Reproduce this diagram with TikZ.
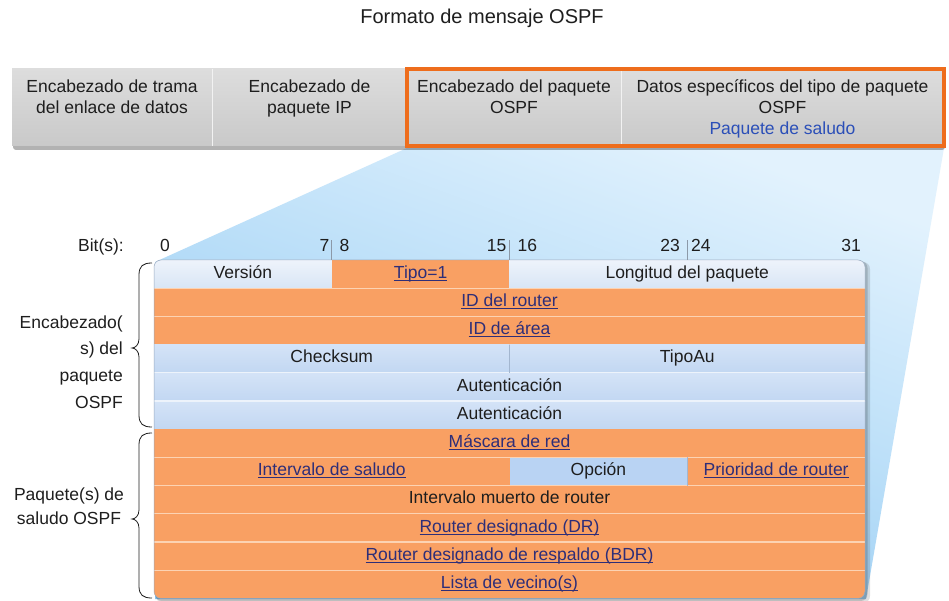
\documentclass[tikz,border=0pt]{standalone}
\usepackage{fontspec}
\setmainfont{Liberation Sans}

% palette
\definecolor{txtc}{HTML}{1E1E1E}
\definecolor{linkc}{HTML}{2E2E78}
\definecolor{hello}{HTML}{2B4FB8}
\definecolor{framec}{HTML}{EE6D1C}
\definecolor{barlight}{HTML}{DDDDDD}
\definecolor{bardark}{HTML}{C9C9C9}
\definecolor{barsep}{HTML}{F2F2F2}
\definecolor{projlight}{HTML}{E2F2FD}
\definecolor{projmid}{HTML}{B7DDF8}
\definecolor{projdark}{HTML}{8CC6F0}
\definecolor{orangec}{HTML}{F9A063}
\definecolor{orangeln}{HTML}{FCD3B3}
\definecolor{paletop}{HTML}{EEF3FB}
\definecolor{palebot}{HTML}{D8E5F5}
\definecolor{bluetop}{HTML}{D4E3F7}
\definecolor{bluebot}{HTML}{C2D7F2}
\definecolor{optblue}{HTML}{B9D3F3}
\definecolor{blueln}{HTML}{EDF3FB}
\definecolor{divln}{HTML}{A3B6CF}
\definecolor{tickc}{HTML}{8C99A8}
\definecolor{tableedge}{HTML}{9AABC0}

% underlined field name
\newcommand\lnk[1]{\textcolor{linkc}{\setbox0=\hbox{#1}\rlap{\rule[-2.6pt]{\wd0}{0.9pt}}\box0}}

\tikzset{
  bar/.style={anchor=north west, minimum height=77pt, inner sep=0pt, outer sep=0pt,
    top color=barlight, bottom color=bardark},
  bartext/.style={anchor=north, inner sep=0pt, align=center, text=txtc,
    font=\fontsize{17.5}{21}\selectfont},
  cell/.style={anchor=north west, minimum height=28.2pt, inner sep=0pt, outer sep=0pt,
    text=txtc, font=\fontsize{17.5}{20}\selectfont, text height=12pt, text depth=3.5pt},
  orange cell/.style={cell, fill=orangec},
  pale cell/.style={cell, top color=paletop, bottom color=palebot},
  blue cell/.style={cell, top color=bluetop, bottom color=bluebot},
  bit/.style={anchor=base, inner sep=0pt, text=txtc, font=\fontsize{17.5}{20}\selectfont},
  side/.style={inner sep=0pt, text=txtc},
  orange sep/.style={draw=orangeln, line width=1.1pt},
  blue sep/.style={draw=blueln, line width=1.1pt},
  col sep/.style={draw=divln, line width=0.7pt},
  tick/.style={draw=tickc, line width=0.8pt},
  curly/.style={draw=txtc, line width=0.8pt},
}

\begin{document}
\begin{tikzpicture}[x=1pt,y=-1pt]
\path[use as bounding box, fill=white] (0,0) rectangle (949,601);

% title
\node[anchor=base, inner sep=0pt, text=txtc, font=\fontsize{20}{24}\selectfont]
  (title) at (482,24) {Formato de mensaje OSPF};

% projection of the OSPF part onto the packet layout
\shade[top color=projlight, bottom color=projdark, middle color=projmid, shading angle=-20]
  (407,148) -- (944,148) -- (866,599) -- (155,599) -- (155,262) -- cycle;

% frame bar
\fill[black, opacity=0.3, rounded corners=3pt] (13,71) rectangle (945,150);
\node[bar, minimum width=200pt] (b1) at (12,69) {};
\node[bar, minimum width=195pt] (b2) at (b1.north east) {};
\node[bar, minimum width=214pt] (b3) at (b2.north east) {};
\node[bar, minimum width=323pt] (b4) at (b3.north east) {};
\draw[barsep, line width=0.8pt] (b1.north east) -- (b1.south east);
\draw[barsep, line width=0.8pt] (b2.north east) -- (b2.south east);
\draw[barsep, line width=0.8pt] (b3.north east) -- (b3.south east);

\node[bartext, yshift=-10.6pt] (t1) at (b1.north) {Encabezado de trama\\del enlace de datos};
\node[bartext, yshift=-10.6pt] (t2) at (b2.north) {Encabezado de\\paquete IP};
\node[bartext, yshift=-10.6pt] (t3) at (b3.north) {Encabezado del paquete\\OSPF};
\node[bartext, yshift=-10.6pt] (t4) at (b4.north)
  {Datos específicos del tipo de paquete\\OSPF\\\textcolor{hello}{Paquete de saludo}};

\draw[framec, line width=4pt] (b3.north west) rectangle (b4.south east);

% bit positions
\node[bit, anchor=base east] (bitlbl) at (124,252) {Bit(s):};
\node[bit] (n0) at (165,252) {0};
\node[bit, anchor=base east] (n7) at (329.5,252) {7};
\node[bit, anchor=base west] (n8) at (339.5,252) {8};
\node[bit, anchor=base east] (n15) at (506.5,252) {15};
\node[bit, anchor=base west] (n16) at (517.5,252) {16};
\node[bit, anchor=base east] (n23) at (680,252) {23};
\node[bit, anchor=base west] (n24) at (691,252) {24};
\node[bit, anchor=base east] (n31) at (861,252) {31};

% table shadow
\fill[black, opacity=0.12, rounded corners=7pt] (156,262) rectangle (870,603);
\fill[black, opacity=0.15, rounded corners=7pt] (155,261) rectangle (867.5,601);

% packet layout
\begin{scope}
\clip[rounded corners=7pt] (154,260) rectangle (865,598.4);
\node[pale cell, minimum width=177.75pt] (ver) at (154,260) {Versión};
\node[orange cell, minimum width=177.75pt] (tipo) at (ver.north east) {\lnk{Tipo=1}};
\node[pale cell, minimum width=355.5pt] (lon) at (tipo.north east) {Longitud del paquete};
\node[orange cell, minimum width=711pt] (rid) at (ver.south west) {\lnk{ID del router}};
\node[orange cell, minimum width=711pt] (aid) at (rid.south west) {\lnk{ID de área}};
\node[blue cell, minimum width=355.5pt] (chk) at (aid.south west) {Checksum};
\node[blue cell, minimum width=355.5pt] (tau) at (chk.north east) {TipoAu};
\node[blue cell, minimum width=711pt] (au1) at (chk.south west) {Autenticación};
\node[blue cell, minimum width=711pt] (au2) at (au1.south west) {Autenticación};
\node[orange cell, minimum width=711pt] (mask) at (au2.south west) {\lnk{Máscara de red}};
\node[orange cell, minimum width=355.5pt] (hint) at (mask.south west) {\lnk{Intervalo de saludo}};
\node[cell, fill=optblue, minimum width=177.75pt] (opt) at (hint.north east) {Opción};
\node[orange cell, minimum width=177.75pt] (prio) at (opt.north east) {\lnk{Prioridad de router}};
\node[orange cell, minimum width=711pt] (dead) at (hint.south west) {Intervalo muerto de router};
\node[orange cell, minimum width=711pt] (dr) at (dead.south west) {\lnk{Router designado (DR)}};
\node[orange cell, minimum width=711pt] (bdr) at (dr.south west) {\lnk{Router designado de respaldo (BDR)}};
\node[orange cell, minimum width=711pt] (nbr) at (bdr.south west) {\lnk{Lista de vecino(s)}};

% row separators
\path[orange sep] (rid.north west) -- (rid.north east);
\path[orange sep] (aid.north west) -- (aid.north east);
\path[blue sep] (au1.north west) -- (au1.north east);
\path[blue sep] (au2.north west) -- (au2.north east);
\path[orange sep] (hint.north west) -- (prio.north east);
\path[orange sep] (dead.north west) -- (dead.north east);
\path[orange sep] (dr.north west) -- (dr.north east);
\path[orange sep] (bdr.north west) -- (bdr.north east);
\path[orange sep] (nbr.north west) -- (nbr.north east);
% column separators
\path[col sep] (chk.north east) -- (chk.south east);
\path[col sep] (opt.north east) -- (opt.south east);
\end{scope}
\draw[tableedge, line width=0.5pt, rounded corners=7pt] (ver.north west) rectangle (nbr.south east);

% bit boundary ticks
\path[tick] (ver.north east) -- ++(0,-20) coordinate (k1);
\path[tick] (tipo.north east) -- ++(0,-20) coordinate (k2);
\path[tick] (opt.east |- lon.north) -- ++(0,-20) coordinate (k3);

% braces and their labels
\draw[curly] (152,263) .. controls (143,263) and (139,266) .. (139,275) -- (139,339)
  .. controls (139,345) and (135,348) .. (132,348)
  .. controls (135,348) and (139,351) .. (139,357) -- (139,415)
  .. controls (139,424) and (143,427) .. (152,427);
\draw[curly] (152,433) .. controls (143,433) and (139,436) .. (139,445) -- (139,510)
  .. controls (139,516) and (135,519) .. (132,519)
  .. controls (135,519) and (139,522) .. (139,528) -- (139,586)
  .. controls (139,595) and (143,598) .. (152,598);

\node[side, align=right, anchor=north east, font=\fontsize{17.5}{26.7}\selectfont]
  (hdrlbl) at (123,315.2) {Encabezado(\\s) del\\paquete\\OSPF};
\node[side, align=center, anchor=north, font=\fontsize{17.5}{23.5}\selectfont]
  (hellolbl) at (69,488) {Paquete(s) de\\saludo OSPF};
\end{tikzpicture}
\end{document}
